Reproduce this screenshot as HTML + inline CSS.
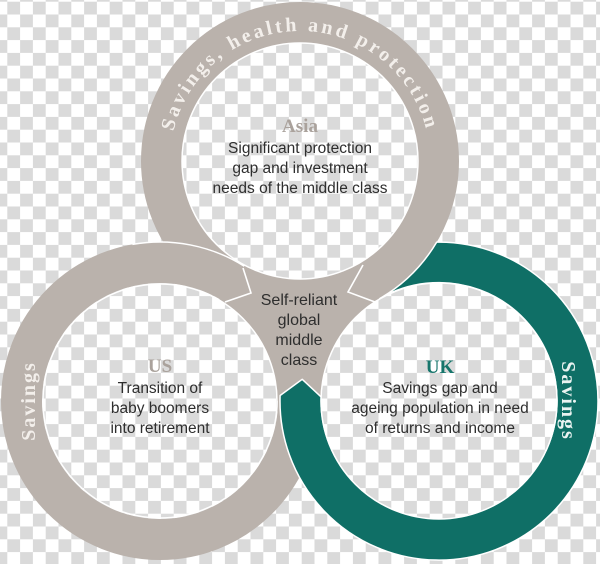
<!DOCTYPE html>
<html><head><meta charset="utf-8"><style>
html,body{margin:0;padding:0;background:#fff}
svg{display:block}
.b{font-family:"Liberation Sans","DejaVu Sans",sans-serif;font-size:15.5px;fill:#2e2e2e;text-anchor:middle}
.h{font-family:"Liberation Serif","DejaVu Serif",serif;font-weight:bold;font-size:19px;text-anchor:middle}
</style></head><body>
<svg width="600" height="564" viewBox="0 0 600 564" xmlns="http://www.w3.org/2000/svg">
<defs>
<pattern id="ck" x="7.3" y="1.7" width="25.6" height="25.6" patternUnits="userSpaceOnUse">
<rect width="25.6" height="25.6" fill="#ffffff"/>
<rect width="12.8" height="12.8" fill="#dadada"/>
<rect x="12.8" y="12.8" width="12.8" height="12.8" fill="#dadada"/>
</pattern>
<path id="arc" d="M 170 161 A 130 130 0 0 1 430 161"/>
</defs>
<rect width="600" height="564" fill="url(#ck)"/>
<polygon points="300,161 160,401 439,401" fill="#bab2ac"/>
<circle cx="300" cy="161" r="138.5" fill="none" stroke="#bab2ac" stroke-width="41"/>
<circle cx="160" cy="401" r="138.5" fill="none" stroke="#bab2ac" stroke-width="41"/>
<path d="M 132.4 244.4 A 159 159 0 0 1 244.3 266.2" fill="none" stroke="#fff" stroke-width="1.5"/>
<path d="M 321.1 396.9 L 302.2 379.3 L 280.1 395.5 A 159 159 0 1 0 436.7 242.1 A 159 159 0 0 1 379.7 298.6 A 118 118 0 1 1 321.1 396.9 Z" fill="#0f6f66" stroke="#fff" stroke-width="1.5" stroke-linejoin="round"/>
<circle cx="300" cy="161" r="118" fill="url(#ck)" stroke="#fff" stroke-width="1.5"/>
<circle cx="160" cy="401" r="117" fill="url(#ck)" stroke="#fff" stroke-width="1.5"/>
<circle cx="439" cy="401" r="118" fill="url(#ck)" stroke="#fff" stroke-width="1.5"/>
<polyline points="243,268 251,293 225,302" fill="none" stroke="#fff" stroke-width="1.6"/>
<polyline points="363,265 348,292 375,302" fill="none" stroke="#fff" stroke-width="1.6"/>
<text class="h" style="font-size:20px;fill:#f3efeb" letter-spacing="3"><textPath href="#arc" startOffset="50%" text-anchor="middle">Savings, health and protection</textPath></text>
<text class="h" x="300" y="132" fill="#aaa29c">Asia</text>
<text class="b" x="300" y="153">Significant protection</text>
<text class="b" x="300" y="173">gap and investment</text>
<text class="b" x="300" y="193">needs of the middle class</text>
<text class="h" x="160" y="372" fill="#aaa29c">US</text>
<text class="b" x="160" y="393">Transition of</text>
<text class="b" x="160" y="413">baby boomers</text>
<text class="b" x="160" y="433">into retirement</text>
<text class="h" x="440" y="373" fill="#16756b">UK</text>
<text class="b" x="440" y="393">Savings gap and</text>
<text class="b" x="440" y="413">ageing population in need</text>
<text class="b" x="440" y="433">of returns and income</text>
<text class="b" style="font-size:16px" x="299" y="305">Self-reliant</text>
<text class="b" style="font-size:16px" x="299" y="325">global</text>
<text class="b" style="font-size:16px" x="299" y="345">middle</text>
<text class="b" style="font-size:16px" x="299" y="365">class</text>
<text class="h" transform="translate(35,401) rotate(-90)" style="font-size:20px;fill:#f3efeb" letter-spacing="2">Savings</text>
<text class="h" transform="translate(562,401) rotate(90)" style="font-size:20px;fill:#eaf3f1" letter-spacing="2">Savings</text>
</svg>
</body></html>
